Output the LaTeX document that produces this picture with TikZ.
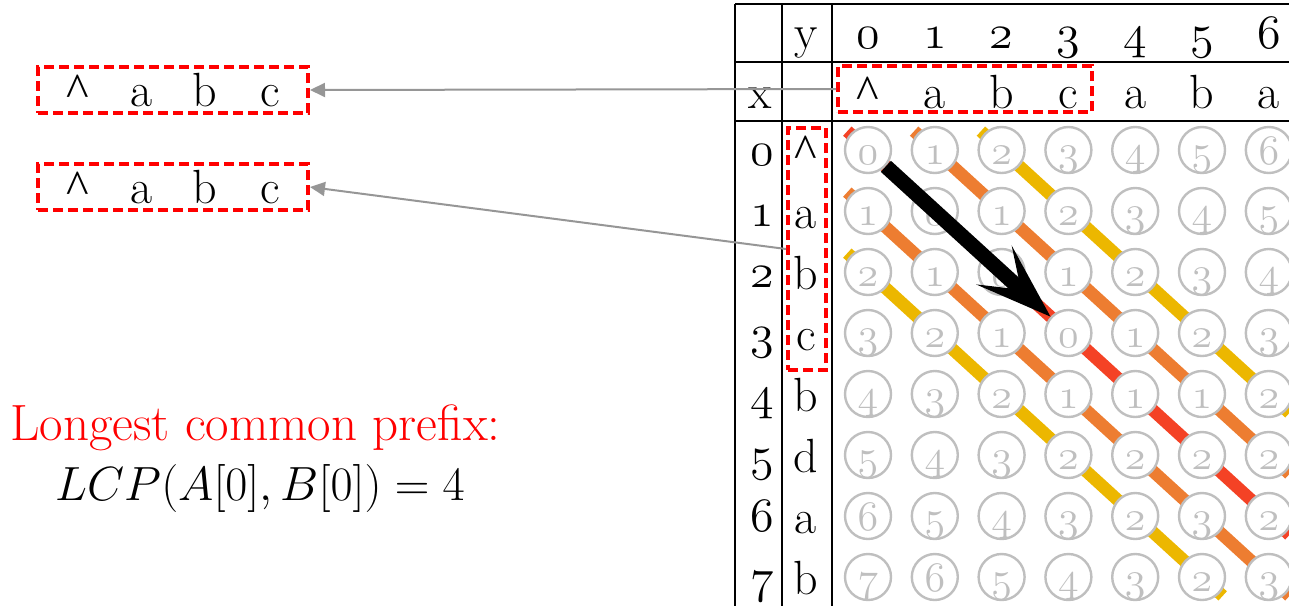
\RequirePackage{fix-cm}
\documentclass[tikz,border=0pt]{standalone}
\usepackage{fontspec}
\usepackage{amsmath}
\usepackage{xcolor}
\usepackage{tikz}
\usetikzlibrary{arrows.meta,backgrounds}

\newfontfamily\caretfont{Liberation Serif}

\definecolor{lcpred}{RGB}{244,66,37}
\definecolor{lcporange}{RGB}{237,125,49}
\definecolor{lcpyellow}{RGB}{236,183,0}
\definecolor{cellgray}{RGB}{191,191,191}
\definecolor{arrowgray}{RGB}{150,150,150}

% old style digits
\newcommand{\osn}[1]{{\usefont{OML}{cmm}{m}{it}#1}}
\newcommand{\crt}{{\caretfont\char"5E}}

\tikzset{
  cell/.style={circle,draw=cellgray,line width=1.2pt,fill=white,minimum size=23pt,inner sep=0pt},
  celldigit/.style={text=cellgray,font=\fontsize{21}{21}\selectfont,anchor=base,inner sep=0pt},
  tabtext/.style={font=\fontsize{24}{24}\selectfont,anchor=base,inner sep=0pt},
  dbox/.style={draw=red,line width=2pt,dash pattern=on 5pt off 2.5pt,inner sep=0pt},
  garrow/.style={draw=arrowgray,line width=1pt,-{Triangle[length=7.5pt,width=7pt]}},
  diag/.style={line width=6.25pt,shorten <=-14pt,shorten >=-14pt},
  bigarrow/.style={line width=7.5pt,-{Stealth[length=38pt,width=26pt,inset=18pt]}},
}

\begin{document}
\begin{tikzpicture}[x=0.5pt,y=-0.5pt]
\useasboundingbox (0,0) rectangle (1289,606);

% table rules
\draw[line width=0.8pt] (735,4) -- (1289,4);
\draw[line width=0.8pt] (735,62) -- (1289,62);
\draw[line width=0.8pt] (735,121) -- (1289,121);
\draw[line width=0.8pt] (735,4) -- (735,606);
\draw[line width=0.8pt] (782,4) -- (782,606);
\draw[line width=0.8pt] (832,4) -- (832,606);

% headers
\node[tabtext] (hy) at (806,48) {y};
\node[tabtext] (hx) at (760,108) {x};
\foreach \c in {0,...,6}
  \node[tabtext] (h\c) at ({868+66.8*\c},48) {\osn{\c}};
\foreach \ch [count=\c from 0] in {\crt,a,b,c,a,b,a}
  \node[tabtext] (x\c) at ({868+66.8*\c},108) {\ch};
\foreach \r in {0,...,7}
  \node[tabtext] (r\r) at (762,{150+61*\r+15}) {\osn{\r}};
\foreach \ch [count=\r from 0] in {\crt,a,b,c,b,d,a,b}
  \node[tabtext] (y\r) at (806,{150+61*\r+17}) {\ch};

% distance cells
\foreach \vals [count=\r from 0] in {{0,1,2,3,4,5,6},{1,0,1,2,3,4,5},{2,1,0,1,2,3,4},{3,2,1,0,1,2,3},
    {4,3,2,1,1,1,2},{5,4,3,2,2,2,2},{6,5,4,3,2,3,2},{7,6,5,4,3,2,3}}
  \foreach \v [count=\c from 0] in \vals {
    \node[cell] (c-\r-\c) at ({868+66.8*\c},{150+61*\r}) {};
    \node[celldigit] (d-\r-\c) at ([yshift=-7pt]c-\r-\c.center) {\osn{\v}};
  }

% diagonals
\begin{scope}[on background layer]
  \clip (832,121) rectangle (1289,606);
  \draw[diag,lcpyellow] (c-0-2.center) -- (c-4-6.center);
  \draw[diag,lcpyellow] (c-2-0.center) -- (c-7-5.center);
  \draw[diag,lcporange] (c-0-1.center) -- (c-5-6.center);
  \draw[diag,lcporange] (c-1-0.center) -- (c-7-6.center);
  \draw[diag,lcpred] (c-0-0.center) -- (c-6-6.center);
\end{scope}

\draw[bigarrow] (c-0-0) -- (c-3-3);

% prefix boxes
\node[dbox,minimum width=127pt,minimum height=23pt] (hbox) at (965,89) {};
\node[dbox,minimum width=19pt,minimum height=121pt] (ybox) at (807,249) {};
\node[dbox,minimum width=135pt,minimum height=23pt] (boxA) at (173,90) {};
\node[dbox,minimum width=135pt,minimum height=23pt] (boxB) at (173,187) {};
\foreach \ch/\xx [count=\i] in {\crt/78,a/142,b/205,c/270} {
  \node[tabtext] (a\i) at (\xx,106) {\ch};
  \node[tabtext] (b\i) at (\xx,203) {\ch};
}

\draw[garrow] (hbox.west) -- (boxA.east);
\draw[garrow] (ybox.west) -- (boxB.east);

\node[font=\fontsize{25.5}{25.5}\selectfont,text=red,anchor=base west,inner sep=0pt] (title) at (10,440) {Longest common prefix:};
\node[font=\fontsize{24}{24}\selectfont,anchor=base west,inner sep=0pt] (formula) at (55,500) {$LCP(A[0],B[0]) = 4$};
\end{tikzpicture}
\end{document}
